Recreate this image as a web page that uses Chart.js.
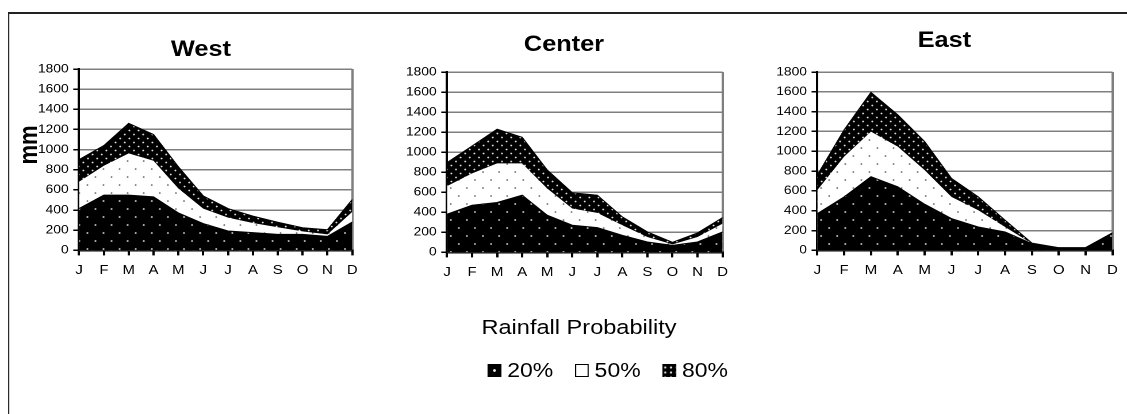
<!DOCTYPE html>
<html>
<head>
<meta charset="utf-8">
<script src="https://cdn.jsdelivr.net/npm/chart.js@4/dist/chart.umd.min.js"></script>
<style>
  html, body { margin: 0; padding: 0; background: #fff; overflow: hidden; }
  #page {
    position: absolute; left: 0; top: 0; width: 980px; height: 414px;
    transform: scaleX(1.15); transform-origin: 0 0;
    font-family: "Liberation Sans", Arial, sans-serif; color: #000;
  }
  #frame {
    position: absolute; left: 7px; top: 12px; width: 1100px; height: 600px;
    border-left: 1.8px solid #222; border-top: 2px solid #222;
  }
  .panel { position: absolute; }
  #caption {
    position: absolute; left: 353.5px; width: 300px; top: 315px;
    text-align: center; font-size: 20.5px; line-height: 24px;
  }
  #legend {
    position: absolute; left: 424px; top: 358px; height: 24px;
    display: flex; align-items: center; font-size: 20px; line-height: 24px;
  }
  .sw { width: 12px; height: 13px; box-sizing: border-box; margin-right: 5px; }
  .item { display: flex; align-items: center; margin-right: 19px; }
  .sw20 { background: radial-gradient(circle at 50% 50%, #ddd 0 1px, #000 1.6px); }
  .sw50 { background: #fff; border: 1.6px solid #000; }
  .sw80 { background-color: #000;
    background-image: radial-gradient(circle, #ddd 0 0.8px, transparent 1.3px);
    background-size: 5px 5px; background-position: 0 1px; }
</style>
</head>
<body>
<div id="page">
  <div id="frame"></div>
  <div class="panel" id="west"></div>
  <div class="panel" id="center"></div>
  <div class="panel" id="east"></div>
  <div id="caption">Rainfall Probability</div>
  <div id="legend">
    <div class="item"><div class="sw sw20"></div><span>20%</span></div>
    <div class="item"><div class="sw sw50"></div><span>50%</span></div>
    <div class="item"><div class="sw sw80"></div><span>80%</span></div>
  </div>
</div>
<script>
// Months along the x axis
const months = ['J', 'F', 'M', 'A', 'M', 'J', 'J', 'A', 'S', 'O', 'N', 'D'];

// Monthly rainfall (mm) at each probability level
const westP20 = [415, 548, 548, 531, 372, 266, 193, 176, 159, 159, 139, 282];
const westP50 = [681, 840, 963, 890, 614, 415, 325, 272, 230, 189, 159, 382];
const westP80 = [900, 1040, 1260, 1150, 830, 540, 415, 340, 280, 225, 205, 505];

const centerP20 = [381, 471, 498, 571, 371, 271, 247, 170, 104, 70, 104, 204];
const centerP50 = [661, 788, 888, 888, 638, 438, 394, 271, 154, 80, 154, 287];
const centerP80 = [895, 1062, 1229, 1149, 822, 595, 571, 354, 204, 100, 194, 347];

const eastP20 = [371, 540, 743, 642, 466, 321, 236, 186, 68, 27, 27, 176];
const eastP50 = [608, 946, 1199, 1047, 810, 540, 405, 236, 68, 27, 27, 176];
const eastP80 = [760, 1216, 1594, 1368, 1098, 726, 540, 304, 74, 27, 27, 176];

// Value axis range and step
const yMax = 1800;
const yStep = 200;

const FONT = '"Liberation Sans", Arial, sans-serif';

// Dotted fill patterns, built at 2x and mapped back to CSS pixels
function dotPattern(bg, dot, w, h, pts, r) {
  const k = 2;
  const c = document.createElement('canvas');
  c.width = w * k; c.height = h * k;
  const g = c.getContext('2d');
  g.fillStyle = bg; g.fillRect(0, 0, c.width, c.height);
  g.fillStyle = dot;
  pts.forEach(([x, y]) => { g.beginPath(); g.arc(x * k, y * k, r * k, 0, Math.PI * 2); g.fill(); });
  const p = g.createPattern(c, 'repeat');
  p.setTransform(new DOMMatrix([1 / k, 0, 0, 1 / k, 0, 0]));
  return p;
}
const fill20 = dotPattern('#000', '#d0d0d0', 14, 16, [[3, 4], [10, 12]], 0.9);
const fill50 = dotPattern('#fff', '#555', 14, 16, [[3, 4], [10, 12]], 0.8);
const fill80 = dotPattern('#000', '#e0e0e0', 8, 8, [[1.5, 1.5], [5.5, 5.5]], 0.85);

// Bold panel heading above the plot area, plus an optional rotated unit label
const panelTitle = {
  id: 'panelTitle',
  afterDraw(chart, args, opts) {
    const { ctx, chartArea } = chart;
    ctx.save();
    ctx.fillStyle = '#000';
    ctx.font = 'bold 22px ' + FONT;
    ctx.textAlign = 'center';
    ctx.textBaseline = 'alphabetic';
    ctx.fillText(opts.text, chartArea.left + opts.dx, chartArea.top - opts.dy);
    if (opts.unit) {
      ctx.translate(chartArea.left - opts.unit.dx, chartArea.top + opts.unit.dy);
      ctx.rotate(-Math.PI / 2);
      ctx.font = 'bold 22px ' + FONT;
      ctx.textBaseline = 'middle';
      ctx.fillText(opts.unit.text, 0, 0);
    }
    ctx.restore();
  }
};

function makeConfig(title, p20, p50, p80, tOpts, unit) {
  return {
    type: 'line',
    data: {
      labels: months,
      datasets: [
        { label: '20%', data: p20, backgroundColor: fill20, borderColor: '#000', borderWidth: 1, fill: 'origin' },
        { label: '50%', data: p50, backgroundColor: fill50, borderColor: 'rgba(0,0,0,0)', borderWidth: 0, fill: 'origin' },
        { label: '80%', data: p80, backgroundColor: fill80, borderColor: '#000', borderWidth: 1, fill: 'origin' }
      ]
    },
    options: {
      responsive: false,
      maintainAspectRatio: false,
      animation: false,
      devicePixelRatio: 2,
      events: [],
      layout: { padding: { top: 48, right: 8, left: unit ? 26 : 2, bottom: 2 } },
      elements: { line: { tension: 0 }, point: { radius: 0, hoverRadius: 0 } },
      plugins: {
        legend: { display: false },
        tooltip: { enabled: false },
        title: { display: false },
        panelTitle: { text: title, dx: tOpts.dx, dy: tOpts.dy, unit: unit }
      },
      scales: {
        x: {
          type: 'category',
          offset: false,
          border: { color: '#000', width: 2 },
          grid: {
            color: c => (c.index === months.length - 1 ? '#7f7f7f' : 'rgba(0,0,0,0)'),
            lineWidth: 2,
            tickColor: '#000',
            tickLength: 5,
            drawOnChartArea: true
          },
          ticks: { color: '#000', font: { family: FONT, size: 13 }, padding: 7, maxRotation: 0, autoSkip: false }
        },
        y: {
          min: 0,
          max: yMax,
          border: { color: '#000', width: 2 },
          grid: { color: '#7f7f7f', lineWidth: 1.5, tickColor: '#000', tickLength: 5 },
          ticks: {
            stepSize: yStep, color: '#000', font: { family: FONT, size: 12 }, padding: 4,
            callback: v => String(v)
          }
        }
      }
    },
    plugins: [panelTitle]
  };
}

// Create the chart, then resize and shift it so the plot area lands on the target box
function mount(id, build, target) {
  const holder = document.getElementById(id);
  const tw = target.r - target.l, th = target.b - target.t;
  let w = Math.round(tw + 80), h = Math.round(th + 90);
  let cv = document.createElement('canvas');
  cv.width = w; cv.height = h;
  holder.appendChild(cv);
  let chart = new Chart(cv, build());
  const a = chart.chartArea;
  const w2 = Math.round(w + tw - (a.right - a.left));
  const h2 = Math.round(h + th - (a.bottom - a.top));
  chart.destroy();
  holder.removeChild(cv);
  cv = document.createElement('canvas');
  cv.width = w2; cv.height = h2;
  holder.appendChild(cv);
  chart = new Chart(cv, build());
  const b = chart.chartArea;
  holder.style.left = (target.l - b.left) + 'px';
  holder.style.top = (target.t - b.top) + 'px';
  return chart;
}

mount('west', () => makeConfig('West', westP20, westP50, westP80, { dx: 106, dy: 13 },
    { text: 'mm', dx: 43, dy: 76 }),
  { l: 68.7, r: 306.1, t: 69, b: 250 });
mount('center', () => makeConfig('Center', centerP20, centerP50, centerP80, { dx: 101.7, dy: 21 }, null),
  { l: 388.7, r: 628.7, t: 72, b: 252 });
mount('east', () => makeConfig('East', eastP20, eastP50, eastP80, { dx: 110.5, dy: 25 }, null),
  { l: 710.4, r: 967, t: 72, b: 250 });
</script>
</body>
</html>
